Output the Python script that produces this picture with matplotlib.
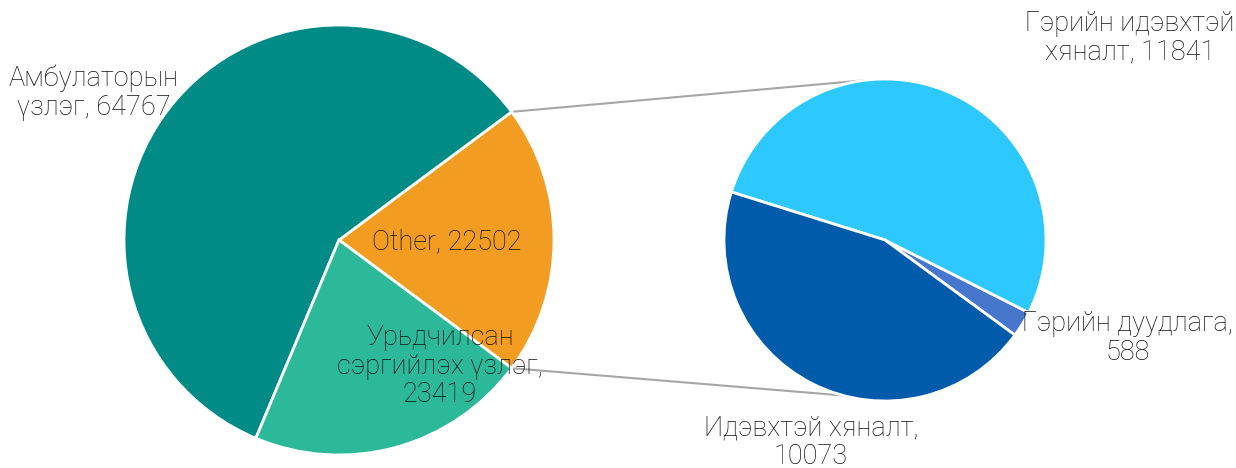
import numpy as np
import matplotlib.pyplot as plt

plt.rcParams['font.family'] = ['Roboto', 'DejaVu Sans']

# main pie
main_labels = ["Other", "Амбулаторын\nүзлэг", "Урьдчилсан\nсэргийлэх үзлэг,\n"]
main_values = [22502, 64767, 23419]
main_colors = ["#F29C22", "#008B86", "#2BB99A"]

# second pie (breakdown of Other)
sub_labels = ["Гэрийн дуудлага,\n", "Гэрийн идэвхтэй\nхяналт, ", "Идэвхтэй хяналт,\n"]
sub_values = [588, 11841, 10073]
sub_colors = ["#4677CC", "#2DC8FE", "#005BAA"]

W, H = 1236, 468
fig = plt.figure(figsize=(W / 100, H / 100), dpi=100)
ax = fig.add_axes([0, 0, 1, 1])

c1, r1 = (339, H - 240), 215
c2, r2 = (885, H - 240), 161

other_ang = 360 * main_values[0] / sum(main_values)
ax.pie(main_values, colors=main_colors, center=c1, radius=r1,
       startangle=-other_ang / 2, counterclock=True,
       wedgeprops=dict(edgecolor='white', linewidth=2), frame=True)

ax.pie(sub_values, colors=sub_colors, center=c2, radius=r2,
       startangle=-36.2, counterclock=True,
       wedgeprops=dict(edgecolor='white', linewidth=2), frame=True)
ax.set_xlim(0, W)
ax.set_ylim(0, H)
ax.set_aspect('equal')
ax.axis('off')

# connector lines
def pt(c, r, a):
    a = np.deg2rad(a)
    return c[0] + r * np.cos(a), c[1] + r * np.sin(a)

for a1, a2 in [(other_ang / 2, 97), (-other_ang / 2, -105)]:
    p1 = pt(c1, r1, a1)
    p2 = pt(c2, r2, a2)
    ax.plot([p1[0], p2[0]], [p1[1], p2[1]], color='#A6A6A6', lw=1.5, zorder=0.5)

fs = 19.5
tk = dict(fontsize=fs, ha='center', va='center', color='#111111',
          linespacing=1.08, fontweight='light')
ax.text(94, H - 93, f"{main_labels[1]}, {main_values[1]}", **tk)
ax.text(447, H - 242, f"{main_labels[0]}, {main_values[0]}", **tk)
ax.text(440, H - 366, f"{main_labels[2]}{main_values[2]}", **tk)
ax.text(1130, H - 38, f"{sub_labels[1]}{sub_values[1]}", **tk)
ax.text(1128, H - 338, f"{sub_labels[0]}{sub_values[0]}", **tk)
ax.text(811, H - 442, f"{sub_labels[2]}{sub_values[2]}", **tk)

fig.savefig("out.png", dpi=100)
